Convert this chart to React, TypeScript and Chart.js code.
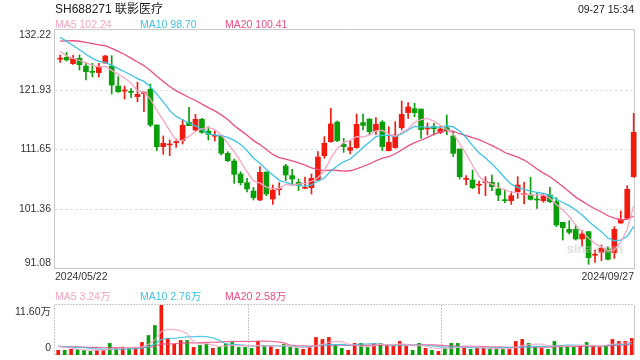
import React, { useEffect, useRef } from 'react';
import { Chart, registerables } from 'chart.js';

Chart.register(...registerables);

const FONT = '"Liberation Sans", Arial, "Noto Sans CJK SC", sans-serif';
const RED = '#f2190f';
const GREEN = '#0a9f0a';
const MA5_COLOR = '#f7a3c2';
const MA10_COLOR = '#3cc3e3';
const MA20_COLOR = '#ec4d84';
const AXIS_COLOR = '#c8c8c8';
const GRID_COLOR = '#e0e0e0';
const LABEL_COLOR = '#333333';

const TITLE = 'SH688271 联影医疗';
const TIME_TEXT = '09-27 15:34';
const START_DATE = '2024/05/22';
const END_DATE = '2024/09/27';
const WATERMARK = 'sina.com';

const PRICE_TICKS = [132.22, 121.93, 111.65, 101.36, 91.08];
const PRICE_TICK_LABELS = ['132.22', '121.93', '111.65', '101.36', '91.08'];
const VOLUME_TICKS = [11.6, 0];
const VOLUME_TICK_LABELS = ['11.60万', '0'];

const PRICE_MA_LEGEND = ['MA5 102.24', 'MA10 98.70', 'MA20 100.41'];
const VOLUME_MA_LEGEND = ['MA5 3.24万', 'MA10 2.76万', 'MA20 2.58万'];

// closes before the visible window (needed for the moving averages at the left edge)
const PRIOR_CLOSE = [126, 127, 128, 128.5, 129.5, 130, 131, 131.5, 132, 132.9, 134, 134.5, 133.5, 132.8, 132.05, 131, 129.5, 128, 126.95];
const PRIOR_VOLUME = [1.8, 2.1, 1.9, 2.2, 2.0, 1.7, 2.3, 1.9, 2.1, 2.0, 1.8, 2.2, 1.9, 2.0, 2.1, 2.3, 2.2, 2.2, 2.22];

const OPEN = [
  127.2, 127.52, 126.43, 127.34, 126.02, 124.99, 124.88, 126.54, 126.02, 122.58,
  121.72, 121.55, 120.74, 121.3, 122.01, 115.87, 112.14, 112.43, 112.83, 113.17,
  116.33, 115.01, 116.84, 114.83, 113.94, 113.97, 110.99, 109.67, 107.43, 105.94,
  104.51, 102.96, 107.78, 103.13, 104.74, 108.81, 107.15, 106.0, 104.96, 105.08,
  106.4, 110.59, 113.0, 116.38, 112.54, 111.51, 111.97, 116.27, 116.9, 114.89,
  116.38, 111.45, 111.97, 115.41, 118.0, 118.68, 118.62, 115.18, 115.58, 114.6,
  115.41, 113.97, 111.74, 106.5, 106.4, 105.5, 105.95, 106.0, 104.85, 102.9,
  102.84, 104.39, 103.9, 103.82, 102.99, 102.84, 103.82, 102.67, 99.11, 97.91,
  97.91, 96.25, 97.51, 93.45, 93.95, 94.53, 93.89, 99.0, 99.8, 106.97,
];
const HIGH = [
  127.92, 128.38, 127.86, 127.92, 126.6, 126.48, 126.48, 127.86, 127.8, 124.19,
  122.58, 122.12, 123.21, 121.6, 122.92, 115.87, 113.97, 113.29, 113.46, 116.84,
  118.91, 117.7, 117.01, 115.58, 114.83, 113.97, 111.28, 110.02, 107.83, 106.69,
  105.14, 108.7, 107.78, 105.54, 105.94, 109.1, 108.24, 106.57, 106.92, 107.43,
  111.28, 113.86, 118.74, 116.56, 113.57, 113.11, 117.76, 117.76, 116.9, 117.13,
  116.61, 115.58, 116.44, 120.0, 119.71, 119.6, 118.62, 116.21, 116.16, 115.81,
  117.59, 114.72, 111.74, 107.15, 108.12, 106.23, 106.97, 107.26, 105.94, 104.79,
  104.39, 106.97, 105.99, 106.86, 104.1, 104.1, 105.14, 103.36, 99.11, 99.4,
  98.65, 97.68, 97.51, 94.36, 95.21, 94.93, 98.37, 101.06, 105.43, 117.88,
];
const LOW = [
  126.65, 126.88, 126.31, 125.34, 123.61, 124.13, 124.13, 126.48, 121.2, 121.49,
  120.34, 120.57, 119.88, 118.16, 115.58, 111.45, 110.82, 110.59, 112.02, 112.6,
  115.75, 114.83, 114.43, 113.29, 113.11, 110.7, 109.56, 105.83, 105.54, 104.33,
  102.96, 102.84, 103.7, 102.21, 103.82, 106.29, 105.71, 104.56, 104.91, 103.99,
  106.29, 110.13, 112.88, 113.0, 111.16, 110.88, 111.85, 115.01, 114.26, 114.26,
  111.45, 111.39, 111.85, 115.01, 117.01, 117.3, 113.57, 114.15, 114.15, 114.37,
  114.2, 110.42, 106.57, 105.54, 104.91, 104.05, 103.7, 104.56, 102.84, 102.5,
  102.21, 103.24, 102.27, 102.96, 101.52, 102.56, 102.5, 98.37, 96.07, 97.1,
  96.07, 95.04, 91.88, 92.23, 92.52, 92.63, 92.92, 98.94, 99.8, 106.86,
];
const CLOSE = [
  127.3, 127.06, 127.29, 126.25, 125.05, 124.93, 125.85, 127.75, 122.75, 121.6,
  121.8, 121.49, 121.15, 121.38, 115.87, 112.14, 112.71, 112.48, 112.9, 115.81,
  115.75, 116.84, 114.6, 114.26, 114.0, 110.99, 109.73, 107.38, 105.94, 104.85,
  103.36, 107.72, 103.99, 104.68, 104.8, 107.26, 106.57, 105.43, 104.97, 106.69,
  110.36, 112.71, 116.04, 113.17, 112.14, 111.97, 115.98, 115.81, 114.72, 115.98,
  112.14, 112.88, 114.15, 117.7, 118.97, 117.99, 115.07, 115.3, 115.24, 115.18,
  114.89, 110.99, 106.97, 106.52, 105.08, 105.6, 106.0, 105.25, 103.82, 102.84,
  103.7, 105.54, 103.95, 103.07, 102.96, 103.65, 102.67, 98.65, 98.2, 97.39,
  96.25, 97.1, 93.03, 93.5, 94.64, 92.75, 97.91, 99.63, 104.79, 114.6,
];
// volume in 万 (10k) shares
const VOLUME = [
  1.08, 1.08, 1.31, 1.23, 1.08, 0.84, 1.08, 1.08, 2.69, 1.54,
  1.84, 1.46, 1.61, 2.92, 4.53, 6.84, 11.6, 3.84, 2.53, 3.38,
  3.38, 1.77, 2.23, 2.53, 1.54, 1.77, 2.61, 2.92, 1.77, 1.77,
  1.54, 3.15, 2.15, 2.0, 1.31, 2.46, 1.84, 1.54, 1.31, 1.84,
  4.07, 3.61, 4.07, 2.23, 1.54, 1.08, 2.69, 2.69, 1.77, 2.69,
  2.69, 2.23, 2.23, 3.15, 2.0, 1.08, 2.69, 1.54, 1.08, 0.84,
  1.54, 2.69, 2.69, 1.54, 1.31, 1.54, 1.54, 1.54, 1.54, 1.31,
  1.31, 3.15, 3.61, 2.69, 1.77, 1.54, 1.31, 3.15, 2.23, 2.0,
  1.77, 2.15, 2.92, 2.23, 1.77, 2.23, 3.61, 3.15, 3.15, 3.84,
];

function movingAverage(prior: number[], values: number[], n: number): number[] {
  const all = prior.concat(values);
  return values.map((_, i) => {
    const end = prior.length + i;
    let s = 0;
    for (let k = end - n + 1; k <= end; k++) s += all[k];
    return s / n;
  });
}

const smallFont = `10.5px ${FONT}`;

const pricePlugin = {
  id: 'priceFrame',
  beforeDatasetsDraw(chart: any) {
    const { ctx, chartArea: a, scales } = chart;
    const y = scales.y;
    ctx.save();
    ctx.lineWidth = 1;
    ctx.strokeStyle = GRID_COLOR;
    ctx.setLineDash([3, 2]);
    for (let i = 1; i < PRICE_TICKS.length - 1; i++) {
      const py = Math.round(y.getPixelForValue(PRICE_TICKS[i])) + 0.5;
      ctx.beginPath();
      ctx.moveTo(a.left, py);
      ctx.lineTo(a.right, py);
      ctx.stroke();
    }
    ctx.setLineDash([]);
    ctx.strokeStyle = AXIS_COLOR;
    ctx.beginPath();
    ctx.moveTo(a.left - 0.5, a.top - 0.5);
    ctx.lineTo(a.right + 0.5, a.top - 0.5);
    ctx.lineTo(a.right + 0.5, a.bottom - 0.5);
    ctx.lineTo(a.left - 0.5, a.bottom - 0.5);
    ctx.closePath();
    ctx.stroke();
    ctx.restore();
  },
  afterDatasetsDraw(chart: any) {
    const { ctx, chartArea: a } = chart;
    ctx.save();
    ctx.font = `bold 13px ${FONT}`;
    ctx.fillStyle = 'rgba(190,190,190,0.5)';
    ctx.textAlign = 'right';
    ctx.textBaseline = 'middle';
    ctx.fillText(WATERMARK, a.right - 11, a.bottom - 20);
    ctx.restore();
  },
  afterDraw(chart: any) {
    const { ctx, chartArea: a, scales } = chart;
    const y = scales.y;
    ctx.save();
    ctx.font = smallFont;
    ctx.fillStyle = LABEL_COLOR;
    ctx.textAlign = 'right';
    ctx.textBaseline = 'middle';
    PRICE_TICKS.forEach((v, i) => {
      let py = y.getPixelForValue(v);
      if (i === 0) py += 5.5;
      if (i === PRICE_TICKS.length - 1) py -= 5.5;
      ctx.fillText(PRICE_TICK_LABELS[i], a.left - 4, py);
    });
    ctx.textAlign = 'left';
    ctx.fillText(START_DATE, a.left, a.bottom + 8.5);
    ctx.textAlign = 'right';
    ctx.fillText(END_DATE, a.right, a.bottom + 8.5);
    ctx.restore();
  },
};

const volumePlugin = {
  id: 'volumeFrame',
  beforeDatasetsDraw(chart: any) {
    const { ctx, chartArea: a } = chart;
    ctx.save();
    ctx.lineWidth = 1;
    ctx.strokeStyle = AXIS_COLOR;
    ctx.setLineDash([2, 1]);
    const hl = (py: number) => {
      ctx.beginPath();
      ctx.moveTo(a.left, py);
      ctx.lineTo(a.right, py);
      ctx.stroke();
    };
    const vl = (px: number) => {
      ctx.beginPath();
      ctx.moveTo(px, a.top);
      ctx.lineTo(px, a.bottom);
      ctx.stroke();
    };
    hl(a.top - 0.5);
    hl(a.bottom - 0.5);
    vl(a.left - 0.5);
    const w = a.right - a.left;
    vl(Math.round(a.left + w / 3) + 0.5);
    vl(Math.round(a.left + (2 * w) / 3) + 0.5);
    ctx.setLineDash([]);
    vl(a.right + 0.5);
    ctx.restore();
  },
  afterDraw(chart: any) {
    const { ctx, chartArea: a, scales } = chart;
    const y = scales.y;
    ctx.save();
    ctx.font = smallFont;
    ctx.fillStyle = LABEL_COLOR;
    ctx.textAlign = 'right';
    ctx.textBaseline = 'middle';
    VOLUME_TICKS.forEach((v, i) => {
      let py = y.getPixelForValue(v);
      if (i === 0) py += 7;
      else py -= 7;
      ctx.fillText(VOLUME_TICK_LABELS[i], a.left - 4, py);
    });
    ctx.restore();
  },
};

function textStyle(left: number, centerY: number, size: number, color: string): React.CSSProperties {
  return {
    position: 'absolute',
    left,
    top: centerY - size / 2,
    fontSize: size,
    lineHeight: `${size}px`,
    color,
    whiteSpace: 'nowrap',
    fontFamily: FONT,
  };
}

export default function App() {
  const priceRef = useRef<HTMLCanvasElement>(null);
  const volRef = useRef<HTMLCanvasElement>(null);

  useEffect(() => {
    const idx = CLOSE.map((_, i) => i);
    const colors = idx.map((i) => (CLOSE[i] >= OPEN[i] ? RED : GREEN));
    const ma5 = movingAverage(PRIOR_CLOSE, CLOSE, 5);
    const ma10 = movingAverage(PRIOR_CLOSE, CLOSE, 10);
    const ma20 = movingAverage(PRIOR_CLOSE, CLOSE, 20);
    const vma5 = movingAverage(PRIOR_VOLUME, VOLUME, 5);
    const vma10 = movingAverage(PRIOR_VOLUME, VOLUME, 10);
    const vma20 = movingAverage(PRIOR_VOLUME, VOLUME, 20);

    const lineDs = (vals: number[], color: string, width: number) => ({
      type: 'line' as const,
      data: vals.map((v, i) => ({ x: i, y: v })),
      borderColor: color,
      borderWidth: width,
      pointRadius: 0,
      tension: 0,
      fill: false,
      order: 1,
      clip: false as any,
    });

    const priceChart = new Chart(priceRef.current as HTMLCanvasElement, {
      type: 'bar',
      data: {
        datasets: [
          {
            type: 'bar',
            data: idx.map((i) => ({ x: i, y: [LOW[i], HIGH[i]] })) as any,
            backgroundColor: colors,
            barThickness: 1,
            grouped: false,
            order: 3,
            clip: false as any,
          },
          {
            type: 'bar',
            data: idx.map((i) => ({ x: i, y: [OPEN[i], CLOSE[i]] })) as any,
            backgroundColor: colors,
            barThickness: 5,
            minBarLength: 1,
            grouped: false,
            order: 2,
            clip: false as any,
          },
          lineDs(ma5, MA5_COLOR, 1.3),
          lineDs(ma10, MA10_COLOR, 1.3),
          lineDs(ma20, MA20_COLOR, 1.3),
        ] as any,
      },
      options: {
        animation: false,
        responsive: false,
        devicePixelRatio: 1,
        events: [],
        layout: { padding: { left: 55, right: 6, top: 30, bottom: 91 } },
        plugins: { legend: { display: false }, tooltip: { enabled: false } },
        scales: {
          x: { type: 'linear', display: false, offset: false, min: -0.8, max: 89.05 },
          y: { type: 'linear', display: false, min: PRICE_TICKS[PRICE_TICKS.length - 1], max: PRICE_TICKS[0] },
        },
      },
      plugins: [pricePlugin],
    } as any);

    const volumeChart = new Chart(volRef.current as HTMLCanvasElement, {
      type: 'bar',
      data: {
        datasets: [
          {
            type: 'bar',
            data: idx.map((i) => ({ x: i, y: VOLUME[i] })) as any,
            backgroundColor: colors,
            barThickness: 3,
            grouped: false,
            order: 2,
          },
          lineDs(vma5, 'rgba(247,163,194,0.85)', 1.2),
          lineDs(vma10, 'rgba(60,195,227,0.85)', 1.2),
          lineDs(vma20, 'rgba(236,77,132,0.85)', 1.2),
        ] as any,
      },
      options: {
        animation: false,
        responsive: false,
        devicePixelRatio: 1,
        events: [],
        layout: { padding: { left: 55, right: 6, top: 305, bottom: 5 } },
        plugins: { legend: { display: false }, tooltip: { enabled: false } },
        scales: {
          x: { type: 'linear', display: false, offset: false, min: -0.5, max: 89.35 },
          y: { type: 'linear', display: false, min: VOLUME_TICKS[1], max: VOLUME_TICKS[0] },
        },
      },
      plugins: [volumePlugin],
    } as any);

    return () => {
      priceChart.destroy();
      volumeChart.destroy();
    };
  }, []);

  const legendX = [55, 140, 225];
  const maColors = [MA5_COLOR, MA10_COLOR, MA20_COLOR];

  return (
    <div
      style={{
        position: 'fixed',
        left: 0,
        top: 0,
        width: 640,
        height: 360,
        background: '#ffffff',
        overflow: 'hidden',
        fontFamily: FONT,
      }}
    >
      <canvas ref={priceRef} width={640} height={360} style={{ position: 'absolute', left: 0, top: 0, width: 640, height: 360 }} />
      <canvas ref={volRef} width={640} height={360} style={{ position: 'absolute', left: 0, top: 0, width: 640, height: 360 }} />
      <div style={textStyle(55, 8.6, 12, '#222222')}>{TITLE}</div>
      <div style={{ ...textStyle(0, 9, 10.5, '#222222'), left: undefined, right: 6 }}>{TIME_TEXT}</div>
      {PRICE_MA_LEGEND.map((t, i) => (
        <div key={'p' + i} style={textStyle(legendX[i], 24, 10.5, maColors[i])}>{t}</div>
      ))}
      {VOLUME_MA_LEGEND.map((t, i) => (
        <div key={'v' + i} style={textStyle(legendX[i], 296, 10.5, maColors[i])}>{t}</div>
      ))}
    </div>
  );
}
